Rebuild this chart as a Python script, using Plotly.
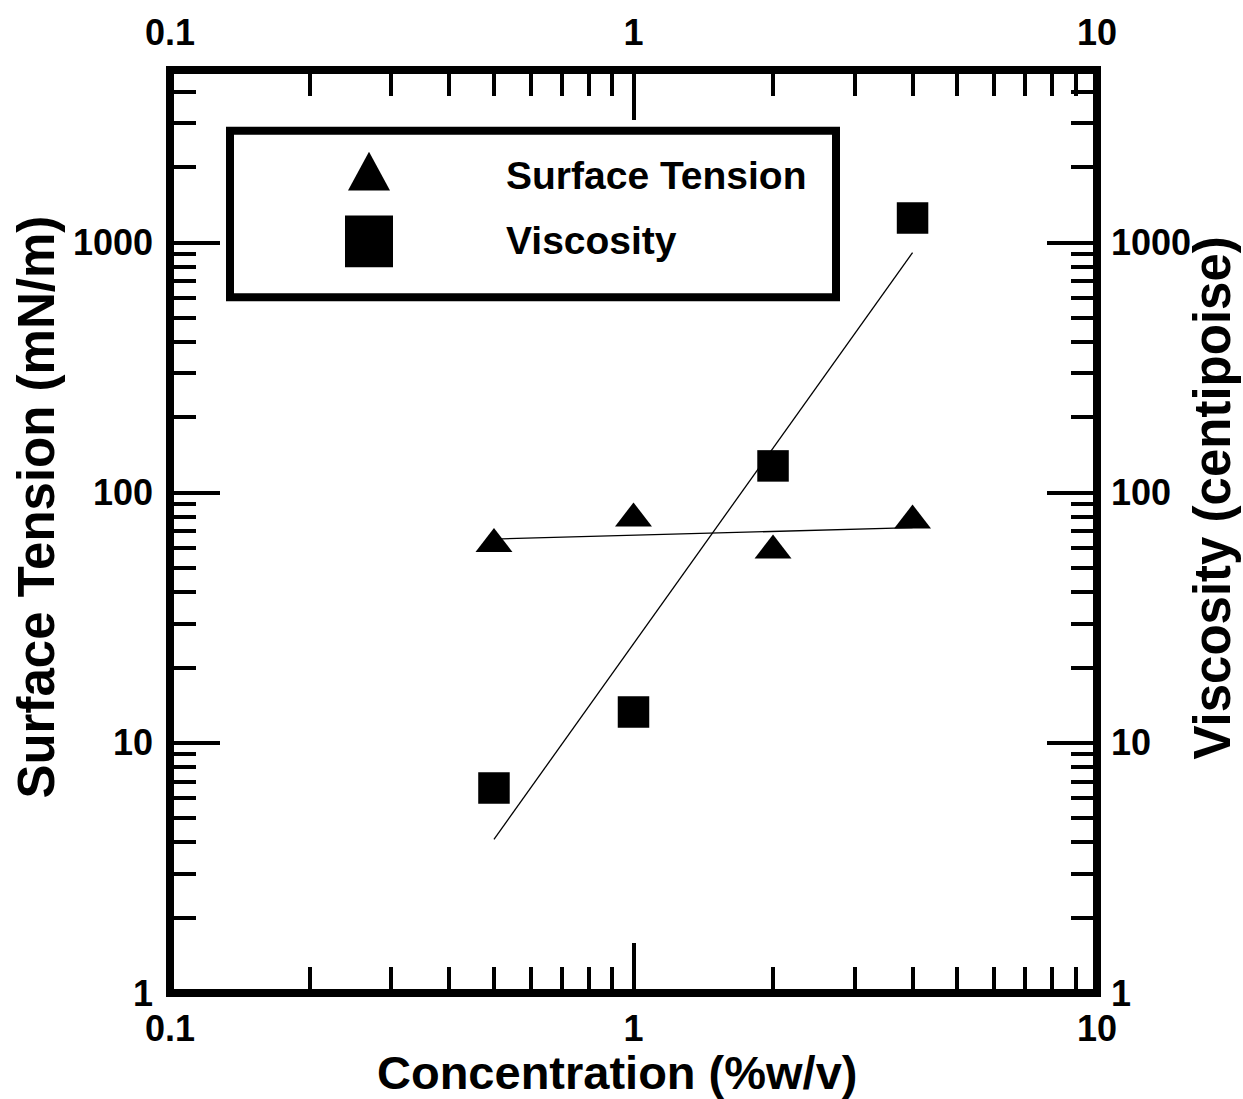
import numpy as np
import plotly.graph_objects as go

# ---- data ----
conc = [0.5, 1, 2, 4]                       # %w/v
surface_tension = [62.4, 78.9, 58.8, 77.4]  # mN/m
viscosity = [6.6, 13.3, 128, 1253]          # centipoise

x_tickvals = [0.1, 1, 10]
x_ticktext = ["0.1", "1", "10"]
y_tickvals = [1, 10, 100, 1000]
y_ticktext = ["1", "10", "100", "1000"]
x_minor = [0.2, 0.3, 0.4, 0.5, 0.6, 0.7, 0.8, 0.9, 2, 3, 4, 5, 6, 7, 8, 9]
y_minor = [m * d for d in (1, 10, 100) for m in range(2, 10)] + [2000, 3000, 4000]

legend_labels = ["Surface Tension", "Viscosity"]

# ---- power-law fits (log-log regression) ----
lx = np.log10(conc)
def fit(vals):
    b, a = np.polyfit(lx, np.log10(vals), 1)
    xs = np.array([min(conc), max(conc)])
    return xs, 10 ** (a + b * np.log10(xs))

fx_st, fy_st = fit(surface_tension)
fx_v, fy_v = fit(viscosity)

FONT = "Liberation Sans, Arial, Helvetica, sans-serif"

fig = go.Figure()
fig.add_trace(go.Scatter(x=fx_st, y=fy_st, mode="lines", line=dict(color="black", width=1.3),
                         xaxis="x", yaxis="y", showlegend=False, hoverinfo="skip"))
fig.add_trace(go.Scatter(x=fx_v, y=fy_v, mode="lines", line=dict(color="black", width=1.3),
                         xaxis="x2", yaxis="y2", showlegend=False, hoverinfo="skip"))
fig.add_trace(go.Scatter(x=conc, y=surface_tension, mode="markers", name=legend_labels[0],
                         marker=dict(symbol="triangle-up", size=32, color="black"),
                         xaxis="x", yaxis="y", showlegend=False))
fig.add_trace(go.Scatter(x=conc, y=viscosity, mode="markers", name=legend_labels[1],
                         marker=dict(symbol="square", size=31.5, color="black"),
                         xaxis="x2", yaxis="y2", showlegend=False))

XR = [-1, 1]
YR = [0, 3.69]
tick_font = dict(family=FONT, size=36, color="black", weight=700)
common = dict(type="log", showgrid=False, zeroline=False, showline=False,
              ticks="inside", ticklen=50, tickwidth=3.5, tickcolor="black",
              tickmode="array", tickfont=tick_font)
minor = dict(ticks="inside", ticklen=26, tickwidth=3.5, tickcolor="black")

fig.update_layout(
    width=1243, height=1099,
    margin=dict(l=170, r=146, t=67, b=106),
    paper_bgcolor="white", plot_bgcolor="white",
    xaxis=dict(range=XR, tickvals=x_tickvals, ticktext=x_ticktext, side="bottom",
               minor=dict(tickvals=x_minor, **minor), ticklabelstandoff=11, **common),
    xaxis2=dict(range=XR, tickvals=x_tickvals, ticktext=x_ticktext, side="top", overlaying="x",
                minor=dict(tickvals=x_minor, **minor), ticklabelstandoff=17, **common),
    yaxis=dict(range=YR, tickvals=y_tickvals, ticktext=y_ticktext, side="left",
               minor=dict(tickvals=y_minor, **minor), ticklabelstandoff=16, **common),
    yaxis2=dict(range=YR, tickvals=y_tickvals, ticktext=y_ticktext, side="right", overlaying="y",
                minor=dict(tickvals=y_minor, **minor), ticklabelstandoff=13, **common),
    showlegend=False,
)

# helpers to convert pixel positions to paper fractions (plot area 170..1097 x 67..993)
def px(xp):
    return (xp - 170) / 927.0
def py(yp):
    return (993 - yp) / 926.0

shapes = [
    # plot frame
    dict(type="rect", xref="paper", yref="paper", x0=0, x1=1, y0=0, y1=1,
         line=dict(color="black", width=8), layer="above"),
    # legend box
    dict(type="rect", xref="paper", yref="paper", x0=px(230), x1=px(836), y0=py(295), y1=py(128),
         line=dict(color="black", width=8), fillcolor="white", layer="above"),
    # legend triangle symbol
    dict(type="path", xref="paper", yref="paper",
         path=f"M {px(348)},{py(188)} L {px(390)},{py(188)} L {px(369)},{py(149)} Z",
         fillcolor="black", line=dict(color="black", width=0), layer="above"),
    # legend square symbol
    dict(type="rect", xref="paper", yref="paper", x0=px(345), x1=px(393), y0=py(265), y1=py(213),
         fillcolor="black", line=dict(color="black", width=0), layer="above"),
]
fig.update_layout(shapes=shapes)

annotations = [
    dict(text="Concentration (%w/v)", xref="paper", yref="paper", x=px(617), y=py(1073),
         xanchor="center", yanchor="middle", showarrow=False,
         font=dict(family=FONT, size=47, color="black", weight=700)),
    dict(text="Surface Tension (mN/m)", xref="paper", yref="paper", x=px(37), y=py(506),
         xanchor="center", yanchor="middle", textangle=-90, showarrow=False,
         font=dict(family=FONT, size=51, color="black", weight=700)),
    dict(text="Viscosity (centipoise)", xref="paper", yref="paper", x=px(1213), y=py(497),
         xanchor="center", yanchor="middle", textangle=-90, showarrow=False,
         font=dict(family=FONT, size=51, color="black", weight=700)),
    dict(text=legend_labels[0], xref="paper", yref="paper", x=px(504), y=py(173),
         xanchor="left", yanchor="middle", showarrow=False,
         font=dict(family=FONT, size=39, color="black", weight=700)),
    dict(text=legend_labels[1], xref="paper", yref="paper", x=px(504), y=py(238),
         xanchor="left", yanchor="middle", showarrow=False,
         font=dict(family=FONT, size=39, color="black", weight=700)),
]
fig.update_layout(annotations=annotations)

fig.write_html("out.html")
